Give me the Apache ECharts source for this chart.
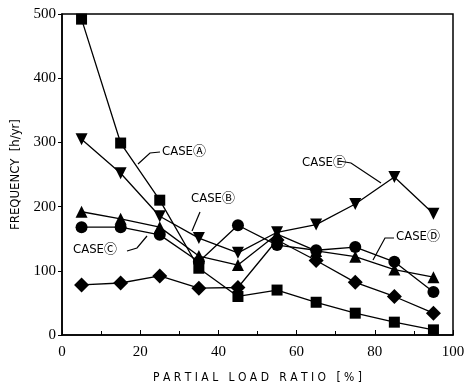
<!DOCTYPE html>
<html>
<head>
<meta charset="utf-8">
<script src="https://cdn.jsdelivr.net/npm/echarts@6/dist/echarts.min.js"></script>
<style>
  html, body { margin: 0; padding: 0; background: #fff; }
  #chart { width: 465px; height: 385px; }
</style>
</head>
<body>
<div id="chart"></div>
<script>
const loadRatio = [5, 15, 25, 35, 45, 55, 65, 75, 85, 95];
const caseA = [492, 299, 210, 104, 60, 70, 51, 34, 20, 8];
const caseB = [192, 181, 168, 123, 109, 157, 131, 122, 102, 90];
const caseC = [168, 168, 156, 114, 171, 140, 132, 137, 114, 67];
const caseD = [78, 81, 92, 73, 74, 148, 116, 82, 60, 34];
const caseE = [305, 252, 185, 151, 128, 160, 172, 204, 246, 189];

const serif = '"Liberation Serif", "DejaVu Serif", serif';
const labelFont = '"DejaVu Sans Condensed", "Noto Sans CJK SC", sans-serif';

function pairs(vals) {
  return loadRatio.map((x, i) => [x, vals[i]]);
}

function line(name, vals, symbol, size) {
  return {
    name: name,
    type: 'line',
    data: pairs(vals),
    symbol: symbol,
    symbolSize: size,
    lineStyle: { color: '#000', width: 1.3 },
    itemStyle: { color: '#000' },
    animation: false
  };
}

// callout labels with their leader lines
const callouts = [
  { text: 'CASE\u24B6', x: 162, y: 145, lead: [[160, 152], [150, 153], [138, 164]] },
  { text: 'CASE\u24B7', x: 191, y: 192, lead: [[200, 212], [192, 231]] },
  { text: 'CASE\u24B8', x: 73, y: 243, lead: [[127, 251], [137, 248], [147, 236]] },
  { text: 'CASE\u24B9', x: 396, y: 230, lead: [[394, 238], [385, 238], [373, 260]] },
  { text: 'CASE\u24BA', x: 302, y: 156, lead: [[339, 161], [351, 163], [381, 183]] }
];

const graphics = [];
callouts.forEach(c => {
  graphics.push({
    type: 'text', left: c.x, top: c.y,
    style: { text: c.text, fill: '#000', font: '13px ' + labelFont }
  });
  graphics.push({
    type: 'polyline',
    shape: { points: c.lead },
    style: { stroke: '#000', lineWidth: 1.2, fill: null }
  });
});

const chart = echarts.init(document.getElementById('chart'));
chart.setOption({
  backgroundColor: '#fff',
  animation: false,
  grid: {
    left: 62, right: 12, top: 14, bottom: 50,
    containLabel: false, outerBoundsMode: 'none',
    show: true, borderColor: '#000', borderWidth: 1.5
  },
  xAxis: {
    type: 'value', min: 0, max: 100, interval: 20,
    name: 'P A R T I A L   L O A D   R A T I O   [ % ]',
    nameLocation: 'middle', nameGap: 37,
    nameTextStyle: { fontFamily: labelFont, fontSize: 12, color: '#000' },
    axisLine: { lineStyle: { color: '#000', width: 1.5 } },
    axisTick: { inside: true, length: 5, lineStyle: { color: '#000' } },
    minorTick: { show: true, splitNumber: 2, length: 4, lineStyle: { color: '#000' } },
    splitLine: { show: false },
    axisLabel: { color: '#000', fontFamily: serif, fontSize: 15, margin: 10 }
  },
  yAxis: {
    type: 'value', min: 0, max: 500, interval: 100,
    name: 'FREQUENCY  [h/yr]',
    nameLocation: 'middle', nameGap: 36,
    nameTextStyle: { fontFamily: labelFont, fontSize: 13, color: '#000' },
    axisLine: { lineStyle: { color: '#000', width: 1.5 } },
    axisTick: { length: 4, lineStyle: { color: '#000' } },
    splitLine: { show: false },
    axisLabel: { color: '#000', fontFamily: serif, fontSize: 15, margin: 6 }
  },
  series: [
    line('CASE A', caseA, 'rect', 11),
    line('CASE B', caseB, 'triangle', 12),
    line('CASE C', caseC, 'circle', 12),
    line('CASE D', caseD, 'diamond', 15),
    line('CASE E', caseE, 'path://M0,0 L10,0 L5,9 Z', 12)
  ],
  graphic: graphics
});
</script>
</body>
</html>
